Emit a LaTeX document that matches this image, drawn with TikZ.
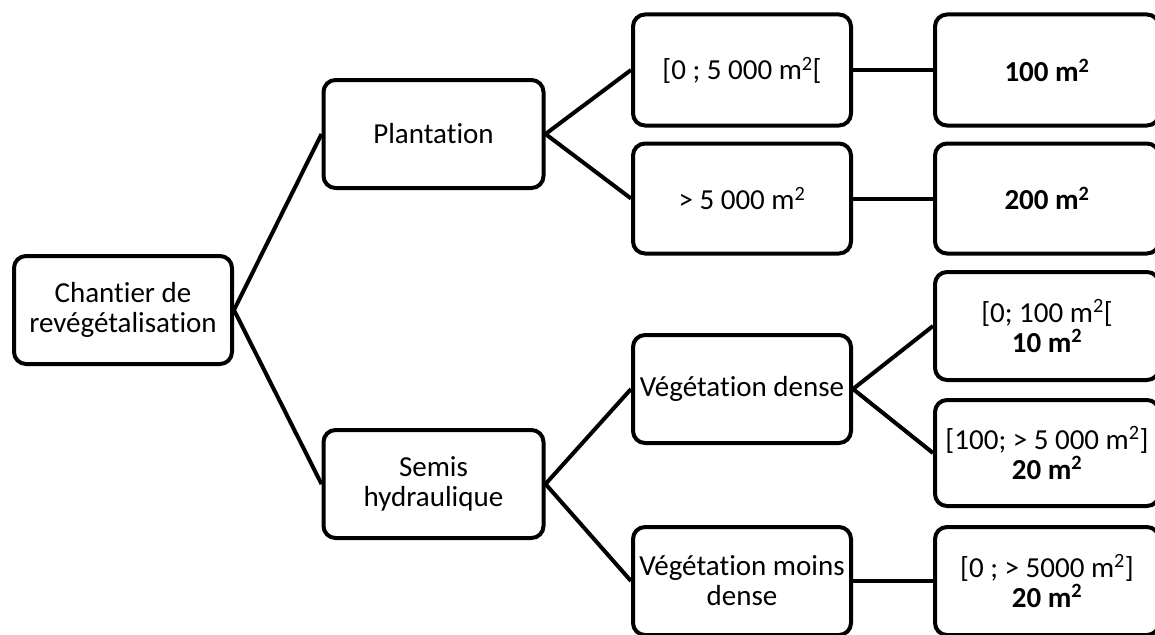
\documentclass[tikz,border=0pt]{standalone}
\usepackage{fontspec}
\setmainfont{Carlito}[Ligatures=NoCommon]
\newcommand{\sq}{\textsuperscript{2}}
\begin{document}
\begin{tikzpicture}[x=1pt,y=-1pt,
  box/.style={draw, line width=4pt, rounded corners=12pt, align=center, inner sep=0pt,
    minimum width=218pt, minimum height=108pt, font=\fontsize{29}{30}\selectfont},
  wide/.style={box, minimum width=224pt},
  conn/.style={line width=4pt}]
\useasboundingbox (0,0) rectangle (1155,634);
\clip (0,0) rectangle (1155,634);
\node[box] (root) at (123,310) {Chantier de\\revégétalisation};
\node[box, minimum width=220pt] (plant) at (433.5,134) {Plantation};
\node[box, minimum width=220pt] (semis) at (433.5,484) {Semis\\hydraulique};
\node[box, minimum height=111pt] (a1) at (742,70) {[0 ; 5 000 m\sq[};
\node[box, minimum height=110pt] (a2) at (742,198.5) {> 5 000 m\sq};
\node[box] (vd) at (742,389) {Végétation dense};
\node[box] (vm) at (742,581) {Végétation moins\\dense};
\node[wide, minimum height=111pt] (b1) at (1047,70) {\textbf{100 m\sq}};
\node[wide, minimum height=110pt] (b2) at (1047,198.5) {\textbf{200 m\sq}};
\node[wide] (c1) at (1047,326) {[0; 100 m\sq[\\\textbf{10 m\sq}};
\node[wide, minimum height=106pt] (c2) at (1047,453) {[100; > 5 000 m\sq]\\\textbf{20 m\sq}};
\node[wide] (c3) at (1047,581) {[0 ; > 5000 m\sq]\\\textbf{20 m\sq}};
\draw[conn] (root.east) -- (plant.west);
\draw[conn] (root.east) -- (semis.west);
\draw[conn] (plant.east) -- (a1.west);
\draw[conn] (plant.east) -- (a2.west);
\draw[conn] (a1.east) -- (b1.west);
\draw[conn] (a2.east) -- (b2.west);
\draw[conn] (semis.east) -- (vd.west);
\draw[conn] (semis.east) -- (vm.west);
\draw[conn] (vd.east) -- (c1.west);
\draw[conn] (vd.east) -- (c2.west);
\draw[conn] (vm.east) -- (c3.west);
\end{tikzpicture}
\end{document}
